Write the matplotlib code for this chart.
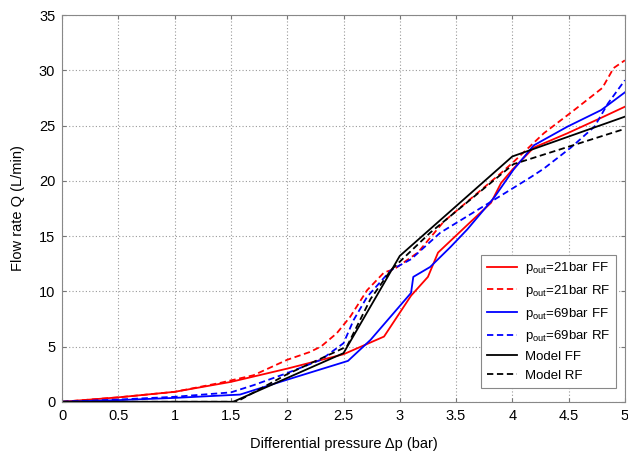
import numpy as np
import matplotlib.pyplot as plt

plt.rcParams['font.family'] = ['Liberation Sans', 'DejaVu Sans']
plt.rcParams['mathtext.fontset'] = 'custom'
plt.rcParams['mathtext.rm'] = 'Liberation Sans'

# p_out = 21 bar, forward flow
x_21ff = [0, 0.5, 1.0, 1.5, 2.0, 2.5, 2.86, 3.1, 3.25, 3.34, 3.6, 3.81, 3.9, 4.0, 4.19, 4.49, 4.79, 5.0]
q_21ff = [0, 0.4, 0.9, 1.8, 3.0, 4.3, 5.9, 9.6, 11.3, 13.5, 16.0, 18.0, 19.8, 21.0, 23.0, 24.3, 25.7, 26.7]

# p_out = 21 bar, reverse flow
x_21rf = [0, 0.5, 1.0, 1.4, 1.7, 2.0, 2.2, 2.3, 2.44, 2.56, 2.71, 2.86, 2.95, 3.16, 3.39, 3.9, 4.01, 4.28, 4.55, 4.8, 4.9, 5.0]
q_21rf = [0, 0.4, 0.9, 1.7, 2.4, 3.8, 4.5, 5.0, 6.2, 7.7, 10.1, 11.7, 12.0, 13.5, 16.3, 20.7, 21.7, 24.3, 26.4, 28.4, 30.2, 30.9]

# p_out = 69 bar, forward flow
x_69ff = [0, 0.5, 1.0, 1.58, 2.0, 2.54, 2.74, 3.1, 3.12, 3.27, 3.45, 3.6, 3.84, 4.01, 4.19, 4.49, 4.79, 5.0]
q_69ff = [0, 0.15, 0.35, 0.65, 2.0, 3.7, 5.6, 9.85, 11.3, 12.2, 14.0, 15.6, 18.5, 21.0, 23.2, 24.9, 26.4, 28.0]

# p_out = 69 bar, reverse flow
x_69rf = [0, 0.5, 1.0, 1.5, 1.7, 2.0, 2.3, 2.5, 2.59, 2.71, 2.92, 3.1, 3.36, 3.81, 4.16, 4.28, 4.52, 4.73, 4.85, 5.0]
q_69rf = [0, 0.2, 0.45, 0.85, 1.5, 2.6, 3.8, 5.3, 7.4, 9.5, 11.9, 12.9, 15.3, 18.1, 20.3, 21.1, 23.0, 24.9, 27.0, 29.1]

# model
x_mff = [0, 1.52, 2.5, 3.0, 4.0, 5.0]
q_mff = [0, 0, 4.4, 13.2, 22.2, 25.8]
x_mrf = [0, 1.55, 2.0, 2.53, 2.74, 2.92, 3.27, 4.01, 5.0]
q_mrf = [0, 0, 2.5, 5.0, 9.3, 11.9, 15.3, 21.5, 24.7]

fig = plt.figure(figsize=(6.28, 4.55), dpi=100)
ax = fig.add_axes([0.099, 0.117, 0.896, 0.85])

dash = (0, (3.5, 2))
lw = 1.3
ax.plot(x_21ff, q_21ff, color='#ff0000', lw=lw, label=r'p$_{\rm out}$=21bar FF')
ax.plot(x_21rf, q_21rf, color='#ff0000', lw=lw, ls=dash, label=r'p$_{\rm out}$=21bar RF')
ax.plot(x_69ff, q_69ff, color='#0000ff', lw=lw, label=r'p$_{\rm out}$=69bar FF')
ax.plot(x_69rf, q_69rf, color='#0000ff', lw=lw, ls=dash, label=r'p$_{\rm out}$=69bar RF')
ax.plot(x_mff, q_mff, color='black', lw=lw, label='Model FF')
ax.plot(x_mrf, q_mrf, color='black', lw=lw, ls=dash, label='Model RF')

ax.set_xlim(0, 5)
ax.set_ylim(0, 35)
ax.set_xticks(np.arange(0, 5.01, 0.5))
ax.set_xticklabels(['0', '0.5', '1', '1.5', '2', '2.5', '3', '3.5', '4', '4.5', '5'])
ax.set_yticks(np.arange(0, 36, 5))
ax.grid(True, color='#999999', ls=(0, (1, 2)), lw=0.8)
ax.tick_params(direction='in', length=3, labelsize=10.5, color='#777777', top=True, right=True, pad=5)
for s in ax.spines.values():
    s.set_color('#888888')
    s.set_linewidth(0.8)

ax.set_xlabel('Differential pressure \u0394p (bar)', fontsize=10.5, labelpad=10)
ax.set_ylabel('Flow rate Q (L/min)', fontsize=10.5, labelpad=10)

leg = ax.legend(loc='lower right', bbox_to_anchor=(0.985, 0.036), fontsize=9.5, fancybox=False,
                edgecolor='#888888', framealpha=1, handlelength=2.3, handletextpad=0.6,
                labelspacing=0.5, borderpad=0.45, borderaxespad=0)
leg.get_frame().set_linewidth(0.8)

fig.savefig('out.png', dpi=100)
